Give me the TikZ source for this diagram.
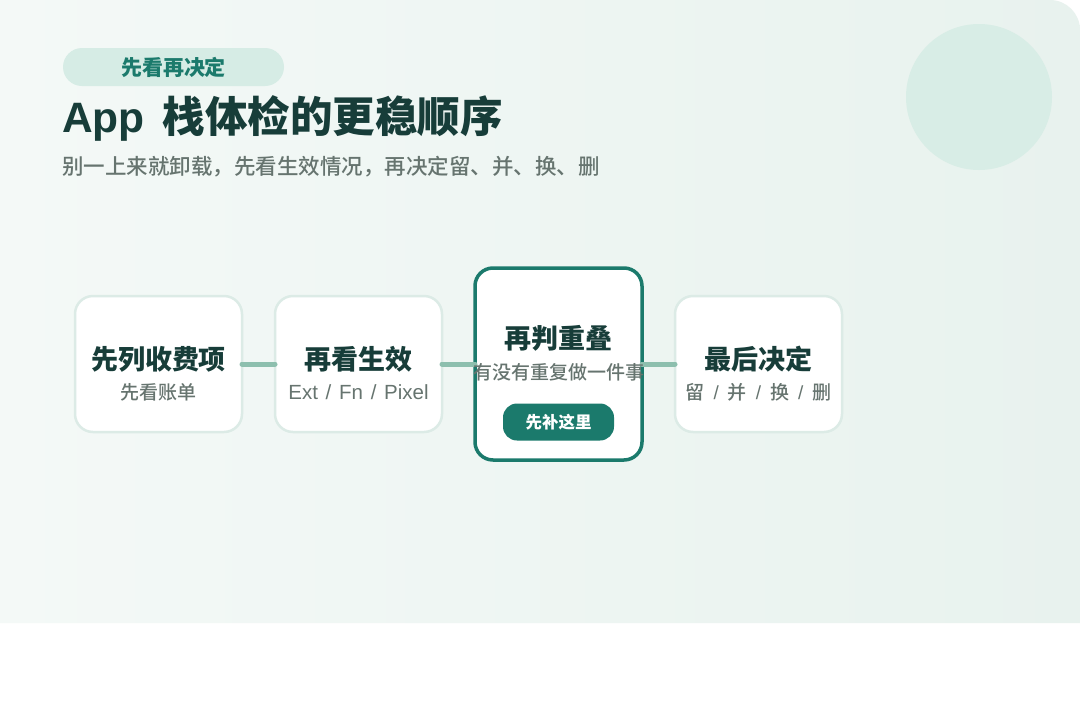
\documentclass[tikz,border=0pt]{standalone}
\usepackage{fontspec}
\setmainfont{Noto Sans CJK SC}
\newfontfamily\medium{Noto Sans CJK SC Medium}
\newfontfamily\latin{Liberation Sans}
\usetikzlibrary{positioning}

\definecolor{ink}{HTML}{173D39}
\definecolor{muted}{HTML}{66746F}
\definecolor{teal}{HTML}{1B7A6C}
\definecolor{pillbg}{HTML}{D6ECE5}
\definecolor{cardline}{HTML}{DCEBE6}
\definecolor{linkc}{HTML}{8DBFAE}
\definecolor{blob}{HTML}{D8EDE6}
\definecolor{bgleft}{HTML}{F4F9F7}
\definecolor{bgright}{HTML}{E8F2EE}

\newcommand{\sep}{{\latin\hspace{9pt}/\hspace{9pt}}}

\begin{document}
\begin{tikzpicture}[x=1pt,y=-1pt,node distance=33pt,
	card/.style={draw=cardline,line width=2.5pt,fill=white,rounded corners=18pt,
		minimum width=167pt,minimum height=136pt,outer sep=0pt},
	focus/.style={card,draw=teal,line width=3.5pt,minimum height=192pt},
	head/.style={font=\fontsize{27}{31}\selectfont\bfseries,text=ink,inner sep=0pt},
	sub/.style={font=\fontsize{19}{22}\selectfont\medium,text=muted,inner sep=0pt},
	link/.style={draw=linkc,line width=5pt,line cap=round}]
	\useasboundingbox (0,0) rectangle (1080,702);
	% backdrop
	\fill[white] (0,0) rectangle (1080,702);
	\shade[left color=bgleft,right color=bgright] (0,623) -- (0,0) [rounded corners=30pt] -- (1080,0) [sharp corners] -- (1080,623) -- cycle;
	\fill[blob] (979,97) circle (73);

	% header
	\node[fill=pillbg,rounded corners=19pt,minimum width=221pt,minimum height=38pt,text=teal,
		font=\fontsize{21}{24}\selectfont\bfseries] (tag) at (173.5,67) {先看再决定};
	\node[anchor=west,inner sep=0pt,text=ink,font=\fontsize{42.5}{48}\selectfont\bfseries] (title) at (62,118) {{\latin App}\hspace{18pt}栈体检的更稳顺序};
	\node[anchor=west,inner sep=0pt,text=muted,font=\fontsize{21.5}{25}\selectfont\medium] (lead) at (62,167) {别一上来就卸载，先看生效情况，再决定留、并、换、删};

	% cards
	\node[card] (bill) at (158.5,364) {};
	\node[card,right=of bill] (live) {};
	\node[focus,right=of live] (dup) {};
	\node[card,right=33pt of dup] (final) {};

	\path (bill) edge[link] (live)
		(live) edge[link] (dup)
		(dup) edge[link] (final);

	\node[head] at ([yshift=5pt]bill.center) {先列收费项};
	\node[sub] at ([yshift=-28pt]bill.center) {先看账单};
	\node[head] at ([yshift=5pt]live.center) {再看生效};
	\node[sub,font=\fontsize{20.5}{24}\selectfont\latin] at ([yshift=-28pt]live.center) {Ext\hspace{2pt} / \hspace{2pt}Fn\hspace{2pt} / \hspace{2pt}Pixel};
	\node[head] at ([yshift=26pt]dup.center) {再判重叠};
	\node[sub] at ([yshift=-8pt]dup.center) {有没有重复做一件事};
	\node[fill=teal,rounded corners=14pt,minimum width=111pt,minimum height=37pt,text=white,
		font=\fontsize{16.5}{20}\selectfont\bfseries] (fix) at ([yshift=-58pt]dup.center) {先补这里};
	\node[head] at ([yshift=5pt]final.center) {最后决定};
	\node[sub] at ([yshift=-28pt]final.center) {留\sep 并\sep 换\sep 删};
\end{tikzpicture}
\end{document}
